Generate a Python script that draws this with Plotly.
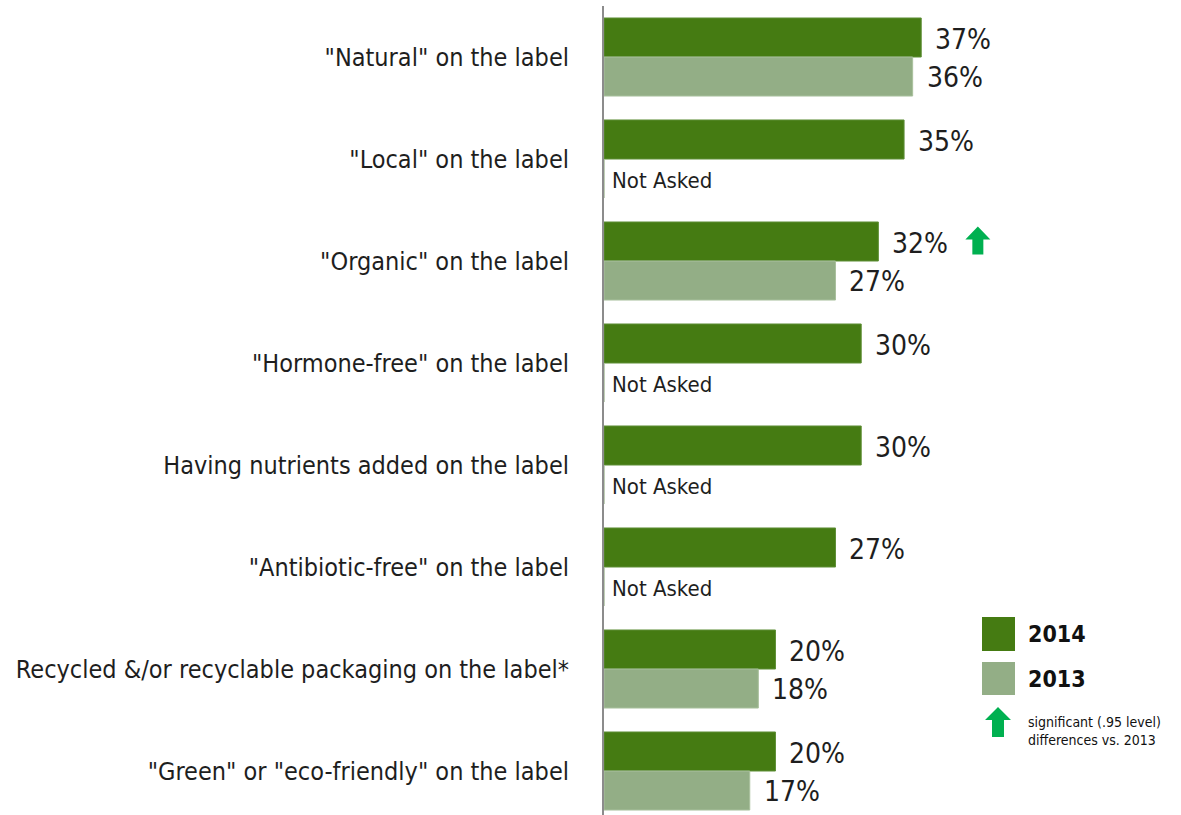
import plotly.graph_objects as go

categories = [
    '"Natural" on the label',
    '"Local" on the label',
    '"Organic" on the label',
    '"Hormone-free" on the label',
    'Having nutrients added on the label',
    '"Antibiotic-free" on the label',
    'Recycled &/or recyclable packaging on the label*',
    '"Green" or "eco-friendly" on the label',
]
values_2014 = [37, 35, 32, 30, 30, 27, 20, 20]
values_2013 = [36, None, 27, None, None, None, 18, 17]
significant_2014 = [False, False, True, False, False, False, False, False]

FONT = "DejaVu Sans Condensed, Liberation Sans Narrow, sans-serif"
DARK = "#457b12"
LIGHT = "#93ae86"
ARROW = "#00b050"
TEXT = "#1e1e1e"

W, H = 1181, 815
L, T = 604, 6
PLOT_H = 809
PX_PER_CAT = 102
XMAX = 67.3

ypos = list(range(len(categories)))
GAP = 0.235
HALF = (1 - GAP) / 4  # centre offset of each bar in a pair

fig = go.Figure()
fig.add_trace(go.Bar(
    y=ypos, x=values_2014, orientation="h", name="2014",
    marker=dict(color=DARK, line=dict(color="#5f8f37", width=1)),
))
fig.add_trace(go.Bar(
    y=ypos, x=[v if v is not None else 0 for v in values_2013], orientation="h", name="2013",
    marker=dict(color=LIGHT, line=dict(color="#a9c09d", width=1)),
))

annotations = []
shapes = []
for i, (v14, v13, sig) in enumerate(zip(values_2014, values_2013, significant_2014)):
    annotations.append(dict(
        x=v14, y=i - HALF, xref="x", yref="y", text=f"{v14}%", showarrow=False,
        xanchor="left", yanchor="middle", xshift=12, yshift=-2,
        font=dict(family=FONT, size=28, color=TEXT),
    ))
    if v13 is None:
        annotations.append(dict(
            x=0, y=i + HALF, xref="x", yref="y", text="Not Asked", showarrow=False,
            xanchor="left", yanchor="middle", xshift=6, yshift=-2,
            font=dict(family=FONT, size=22, color=TEXT),
        ))
    else:
        annotations.append(dict(
            x=v13, y=i + HALF, xref="x", yref="y", text=f"{v13}%", showarrow=False,
            xanchor="left", yanchor="middle", xshift=12, yshift=-1,
            font=dict(family=FONT, size=28, color=TEXT),
        ))
    if sig:
        # block arrow beside the 2014 value label
        shapes.append(dict(
            type="path", xref="x", yref="y", xsizemode="pixel", ysizemode="pixel",
            xanchor=v14, yanchor=i - HALF,
            path="M 87 2 L 99.5 15 L 112 2 L 105 2 L 105 -13 L 94 -13 L 94 2 Z",
            fillcolor=ARROW, line=dict(width=0),
        ))


def px(xp):
    return (xp - L) / (W - L)


def py(yp):
    return 1 - (yp - T) / PLOT_H


# legend boxes
for (y0, y1, col, lab) in [(617, 651, DARK, "2014"), (662, 695, LIGHT, "2013")]:
    shapes.append(dict(type="rect", xref="paper", yref="paper",
                       x0=px(982), x1=px(1015), y0=py(y1), y1=py(y0),
                       fillcolor=col, line=dict(width=0), layer="above"))
    annotations.append(dict(x=px(1026), y=py((y0 + y1) / 2), xref="paper", yref="paper",
                            text=f"<b>{lab}</b>", showarrow=False, xanchor="left", yanchor="middle",
                            font=dict(family=FONT, size=23, color="#111111")))

shapes.append(dict(
    type="path", xref="paper", yref="paper", xsizemode="pixel", ysizemode="pixel",
    xanchor=px(998), yanchor=py(722),
    path="M -13 2 L 0 15 L 13 2 L 6 2 L 6 -15 L -6 -15 L -6 2 Z",
    fillcolor=ARROW, line=dict(width=0),
))
annotations.append(dict(x=px(1026), y=py(731), xref="paper", yref="paper",
                        text="significant (.95 level)<br>differences vs. 2013",
                        showarrow=False, xanchor="left", yanchor="middle", align="left",
                        font=dict(family=FONT, size=14, color="#111111")))

fig.update_layout(
    width=W, height=H,
    margin=dict(l=L, r=0, t=T, b=H - T - PLOT_H, pad=0),
    paper_bgcolor="white", plot_bgcolor="white",
    barmode="group", bargap=GAP, bargroupgap=0,
    showlegend=False,
    annotations=annotations, shapes=shapes,
    xaxis=dict(range=[0, XMAX], visible=False, fixedrange=True, automargin=False),
    yaxis=dict(
        range=[len(categories) - 0.5 - (len(categories) * PX_PER_CAT - PLOT_H) / PX_PER_CAT, -0.5],
        tickmode="array", tickvals=ypos, ticktext=categories,
        ticks="", ticklabelstandoff=28, showgrid=False, zeroline=False,
        showline=True, linecolor="#8c8c8c", linewidth=2,
        tickfont=dict(family=FONT, size=25, color=TEXT),
        fixedrange=True, automargin=False,
    ),
)

fig.write_html("out.html")
